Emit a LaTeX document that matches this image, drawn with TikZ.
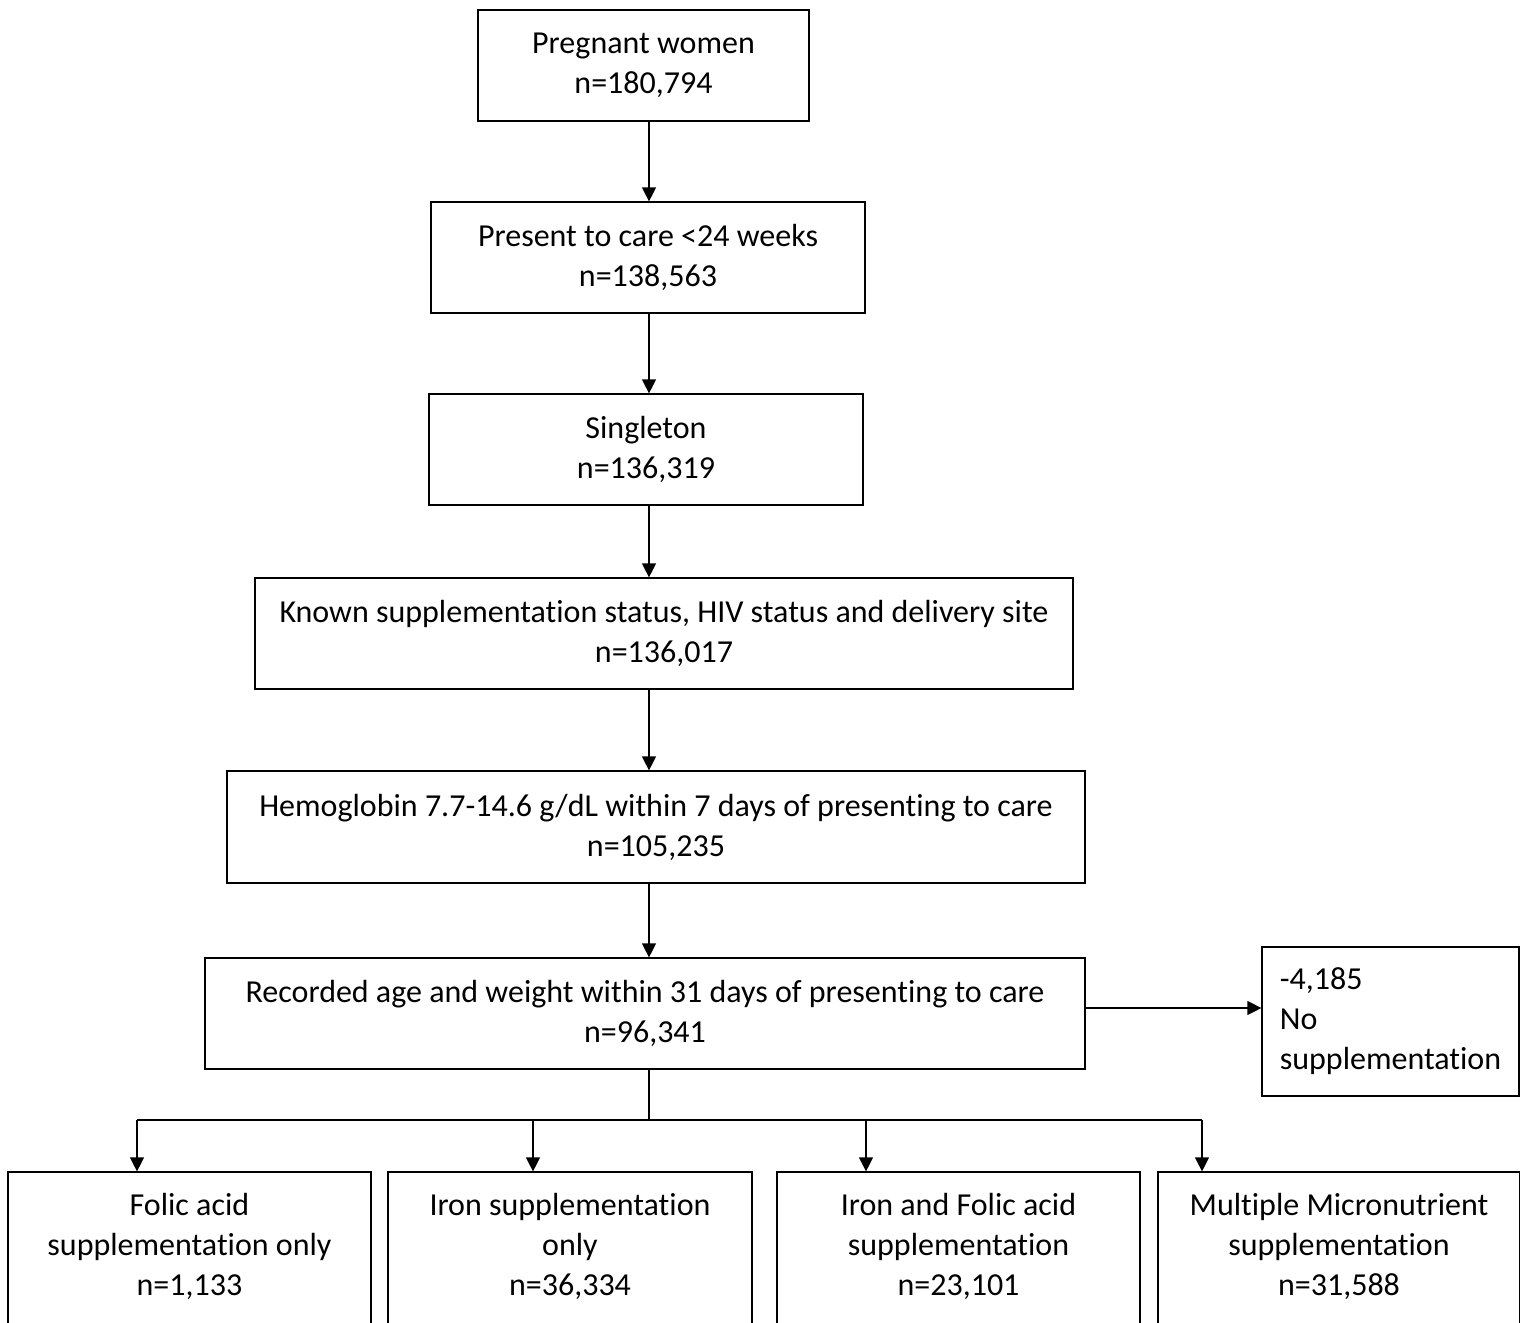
\documentclass[tikz,border=0pt]{standalone}
\usepackage{fontspec}
\setmainfont{Carlito}[Ligatures=NoCommon]
\usetikzlibrary{positioning,arrows.meta}

\begin{document}
\begin{tikzpicture}[x=0.5pt,y=-0.5pt,
    box/.style={draw, line width=0.6pt, align=center, inner sep=0pt, font=\fontsize{16}{20}\selectfont},
    arr/.style={line width=0.6pt, -{Triangle[length=7pt,width=7pt]}}]
    \useasboundingbox (0,0) rectangle (1520,1322);

    % Main column of steps
    \node[box, minimum width=165.5pt, minimum height=55.5pt] (women) at (643.5,65.5) {Pregnant women\\n=180,794};
    \node[box, minimum width=217pt, minimum height=55.5pt] (early) at (648,257.5) {Present to care <24 weeks\\n=138,563};
    \node[box, minimum width=217pt, minimum height=55.5pt] (single) at (646,449.5) {Singleton\\n=136,319};
    \node[box, minimum width=409pt, minimum height=55.5pt] (known) at (664,633.5) {Known supplementation status, HIV status and delivery site\\n=136,017};
    \node[box, minimum width=429pt, minimum height=56pt] (hemo) at (656,827) {Hemoglobin 7.7-14.6 g/dL within 7 days of presenting to care\\n=105,235};
    \node[box, minimum width=440pt, minimum height=55.5pt] (recorded) at (645,1013.5) {Recorded age and weight within 31 days of presenting to care\\n=96,341};

    % Excluded box on the right
    \node[box, align=left, minimum width=128.5pt, minimum height=74.5pt] (nosupp) at (1390.5,1021.5) {-4,185\\No\\supplementation};

    % Supplementation groups (cut off at the bottom)
    \node[box, minimum width=181.5pt, minimum height=92pt] (folic) at (189.5,1264) {Folic acid\\supplementation only\\n=1,133\\~};
    \node[box, minimum width=182pt, minimum height=92pt] (iron) at (570,1264) {Iron supplementation\\only\\n=36,334\\~};
    \node[box, minimum width=181.5pt, minimum height=92pt] (ifa) at (958.5,1264) {Iron and Folic acid\\supplementation\\n=23,101\\~};
    \node[box, minimum width=181pt, minimum height=92pt] (mmn) at (1339,1264) {Multiple Micronutrient\\supplementation\\n=31,588\\~};

    % Arrows down the column
    \coordinate (spine) at (649,0);
    \draw[arr] (women.south -| spine) -- (early.north -| spine);
    \draw[arr] (early.south -| spine) -- (single.north -| spine);
    \draw[arr] (single.south -| spine) -- (known.north -| spine);
    \draw[arr] (known.south -| spine) -- (hemo.north -| spine);
    \draw[arr] (hemo.south -| spine) -- (recorded.north -| spine);
    \draw[arr] (recorded.east |- 0,1008) -- (nosupp.west |- 0,1008);

    % Split into the four groups
    \coordinate (split) at (649,1120);
    \coordinate (d1) at (137,1120);
    \coordinate (d2) at (533,1120);
    \coordinate (d3) at (866,1120);
    \coordinate (d4) at (1202,1120);
    \draw[line width=0.6pt] (recorded.south -| split) -- (split);
    \draw[line width=0.6pt] (d1) -- (d4);
    \draw[arr] (d1) -- (d1 |- folic.north);
    \draw[arr] (d2) -- (d2 |- iron.north);
    \draw[arr] (d3) -- (d3 |- ifa.north);
    \draw[arr] (d4) -- (d4 |- mmn.north);
\end{tikzpicture}
\end{document}
